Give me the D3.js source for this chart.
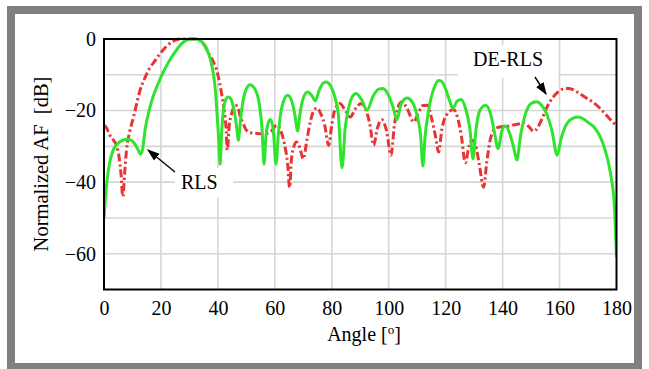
<!DOCTYPE html>
<html><head><meta charset="utf-8">
<script src="https://cdn.jsdelivr.net/npm/d3@7"></script>
<style>html,body{margin:0;padding:0;background:#fff;}svg{display:block;}</style>
</head><body>
<svg id="chart" width="649" height="369"></svg>
<script>
// RLS (green, solid): angle [deg], normalized AF [dB]
const rlsAngle = [0,1,2,3,4.5,6.5,8.5,10.5,12,12.8,13.5,14.5,16,17.5,19,21,23,25,27,29,30.5,32,33.6,35.9,37.3,38.3,39.2,39.7,40.3,40.8,41.2,41.8,42.7,43.7,44.7,45.7,46.5,47.2,47.8,48.5,49.5,51.3,53,54.5,55.5,56.2,56.9,57.5,58.4,59.4,60.4,61.2,62,63,64.5,66,67,68,68.8,70,71.5,73,74.2,75.5,77,78.1,79.5,81,82.3,83.6,84.7,86,87.3,88.5,90.5,92.4,94.5,96.5,98,99.8,101.5,102.9,104.3,106.4,108.3,110,111.2,112,112.8,114,115.8,117.5,118.5,120,121.5,122.5,124,125.5,127,128.5,129.6,130.7,132,134,135.8,137,138.4,139.8,141,142.3,143.8,145,146.3,148,150,151.9,153.7,155.5,157.3,159.2,160.5,162,164.3,166.5,168.7,170,172,175.6,177.9,179.2,180];
const rlsDB    = [-50,-40,-34.5,-31.5,-29.5,-28.3,-28,-29,-31,-32.2,-31,-25,-19.5,-15.5,-12.5,-9,-6,-3.6,-1.5,-0.3,0,0,-0.3,-2.6,-5.5,-9.2,-15,-21,-28,-35,-28,-21,-17,-16.2,-17,-20,-24,-28.3,-24,-19,-15,-12.8,-14,-18,-25,-35,-27,-24,-22.5,-25,-35,-27,-21,-17.5,-15.7,-17.5,-21,-25.7,-21,-16.5,-14.8,-15.8,-17.3,-14.5,-12.3,-12,-13,-16,-21,-36,-25,-19,-16,-15.2,-17,-19.9,-16,-14,-13.8,-15.5,-19,-22.5,-18.3,-16.5,-17.7,-21.5,-27,-35.5,-27,-20,-14,-11.6,-11.8,-14,-17.5,-19.4,-17.4,-16.9,-19.5,-25,-33.5,-25,-20,-18.5,-21,-25.5,-30.6,-25.5,-24.3,-26,-30,-33.8,-27,-21,-18,-17.5,-18.5,-21,-25.5,-32.5,-28,-24.5,-22.3,-21.8,-22.5,-23.3,-24.5,-30,-37.6,-46,-61];

// DE-RLS (red, dash-dot)
const deAngle = [0,1,2,3.5,4.5,5.3,6,6.6,7.3,7.9,9,10.3,11.5,12.6,14.3,16,18,19.6,22,24.3,26.5,29.5,32,33.6,35.5,37.1,38.5,40,41.2,42.2,42.8,43.3,44,44.8,46.1,47,47.8,48.8,50,51.5,53.7,56,58.4,60.7,62,63.3,64.5,65.2,65.8,66.7,67.7,68.8,70,71.3,72.5,73.7,74.8,76.2,77.5,78.9,80,81,82.8,84.8,86.5,88.3,90.3,91.8,93.3,94.7,96,97.5,99.2,100.8,102,103.3,104.6,106.5,108.8,110.5,112,113.6,115,116.5,117.5,118.7,120.5,122.8,124,125.5,126.9,128.2,129.3,130.6,131.8,133.3,134.5,135.7,137.5,139.5,141.6,143.8,146,147.4,149.2,150.9,152.5,154,155.6,157.5,159.5,161.5,163.2,165,167.5,170,172,174.5,177,180];
const deDB    = [-24.1,-25,-26.8,-28.5,-30,-33,-38,-44,-37,-31,-26,-22,-18,-14.5,-11,-8.2,-6,-4.2,-2,-0.6,0,0,0,-0.4,-2,-4.5,-6.5,-10,-14.8,-20,-24,-31,-24,-21,-18.5,-19,-21.5,-23.5,-25.5,-26.2,-26.4,-26.5,-26,-24.1,-25.5,-29,-35,-41.5,-34,-30,-28.8,-30.5,-33.5,-28,-23,-20,-19.3,-21,-24,-29.7,-24,-20,-18,-20,-21.8,-19.5,-18,-19.5,-23.5,-29.7,-25,-22.5,-25.5,-32.5,-24,-19,-17.6,-19.5,-23.2,-20.5,-18.6,-18.5,-22,-27.5,-31.6,-25,-21,-19.7,-21.5,-27,-34.6,-30,-28.3,-30,-35,-41.4,-34,-28,-25,-24.5,-24.4,-24,-23.7,-23.4,-24.5,-25.8,-24.5,-22,-19,-16.5,-14.8,-13.9,-13.8,-14.3,-15.5,-16.8,-17.8,-19.6,-21.8,-24.3];

const xTicks = [0,20,40,60,80,100,120,140,160,180];
const yTicks = [0,-20,-40,-60];
const yGrid  = [-10,-20,-30,-40,-50,-60];
const xGrid  = [20,40,60,80,100,120,140,160];

const FONT = '"Liberation Serif"';
const svg = d3.select("#chart");
const L = 104, R = 616.5, T = 39, B = 289.5;
const x = d3.scaleLinear().domain([0,180]).range([L,R]);
const y = d3.scaleLinear().domain([-70,0]).range([B,T]);

// outer gray frame
svg.append("rect").attr("x",11).attr("y",10).attr("width",627).attr("height",357)
  .attr("fill","none").attr("stroke","#808080").attr("stroke-width",8);

// grid
const g = svg.append("g");
g.selectAll(".hg").data(yGrid).join("line")
  .attr("x1",L).attr("x2",R).attr("y1",d=>y(d)).attr("y2",d=>y(d))
  .attr("stroke","#d6d6d6").attr("stroke-width",1.6);
g.selectAll(".vg").data(xGrid).join("line")
  .attr("y1",T).attr("y2",B).attr("x1",d=>x(d)).attr("x2",d=>x(d))
  .attr("stroke","#d6d6d6").attr("stroke-width",1.6);

// label backgrounds (cover grid)
svg.append("rect").attr("x",175).attr("y",168).attr("width",58).attr("height",30).attr("fill","#fff");
svg.append("rect").attr("x",458).attr("y",45).attr("width",100).attr("height",33).attr("fill","#fff");

svg.append("clipPath").attr("id","clip").append("rect")
  .attr("x",L).attr("y",T-3).attr("width",R-L).attr("height",B-T+3);

const line = d3.line().x(d=>x(d[0])).y(d=>y(d[1])).curve(d3.curveMonotoneX);
const rls = rlsAngle.map((a,i)=>[a,rlsDB[i]]);
const de  = deAngle.map((a,i)=>[a,deDB[i]]);

const plot = svg.append("g").attr("clip-path","url(#clip)");
plot.append("path").datum(de).attr("d",line).attr("fill","none")
  .attr("stroke","#e83434").attr("stroke-width",3)
  .attr("stroke-dasharray","8,3,2.2,3");
plot.append("path").datum(rls).attr("d",line).attr("fill","none")
  .attr("stroke","#2fe32f").attr("stroke-width",3).attr("stroke-linejoin","round");

// frame
svg.append("rect").attr("x",L).attr("y",T).attr("width",R-L).attr("height",B-T)
  .attr("fill","none").attr("stroke","#000").attr("stroke-width",2);

// axes via d3 axis generators (ticks hidden, labels only)
const xAxis = svg.append("g").attr("transform",`translate(0,${B})`)
  .call(d3.axisBottom(x).tickValues(xTicks).tickSize(0).tickPadding(11).tickFormat(d3.format("d")));
xAxis.select(".domain").remove();
xAxis.selectAll("text").style("font-family",FONT).style("font-size","20px").attr("fill","#000");

const yAxis = svg.append("g").attr("transform",`translate(${L},0)`)
  .call(d3.axisLeft(y).tickValues(yTicks).tickSize(0).tickPadding(8)
    .tickFormat(d=> d<0 ? "\u2212"+Math.abs(d) : String(d)));
yAxis.select(".domain").remove();
yAxis.selectAll("text").style("font-family",FONT).style("font-size","20px").attr("fill","#000");

// axis titles
const xt = svg.append("text").attr("x",364).attr("y",341).attr("text-anchor","middle")
  .style("font-family",FONT).style("font-size","20px").attr("fill","#000");
xt.append("tspan").text("Angle [");
xt.append("tspan").style("font-size","13px").attr("dy",-7).text("o");
xt.append("tspan").attr("dy",7).text("]");

svg.append("text").attr("transform","translate(48,164) rotate(-90)").attr("text-anchor","middle")
  .style("font-family",FONT).style("font-size","20.5px").attr("fill","#000")
  .style("white-space","pre").text("Normalized AF  [dB]");

// annotations
[["RLS",181,189],["DE-RLS",473,66]].forEach(([t,tx,ty])=>{
  svg.append("text").attr("x",tx).attr("y",ty).style("font-family",FONT).style("font-size","20px")
    .attr("fill","#000").text(t);
});

svg.append("defs").append("marker").attr("id","ah").attr("viewBox","0 0 10 10")
  .attr("refX",9).attr("refY",5).attr("markerWidth",9).attr("markerHeight",9).attr("orient","auto")
  .append("path").attr("d","M0,1.5 L10,5 L0,8.5 Z").attr("fill","#000");
svg.append("line").attr("x1",175).attr("y1",172).attr("x2",148).attr("y2",150)
  .attr("stroke","#000").attr("stroke-width",1.4).attr("marker-end","url(#ah)");
svg.append("line").attr("x1",535).attr("y1",77).attr("x2",546).attr("y2",94)
  .attr("stroke","#000").attr("stroke-width",1.4).attr("marker-end","url(#ah)");
</script>
</body></html>
